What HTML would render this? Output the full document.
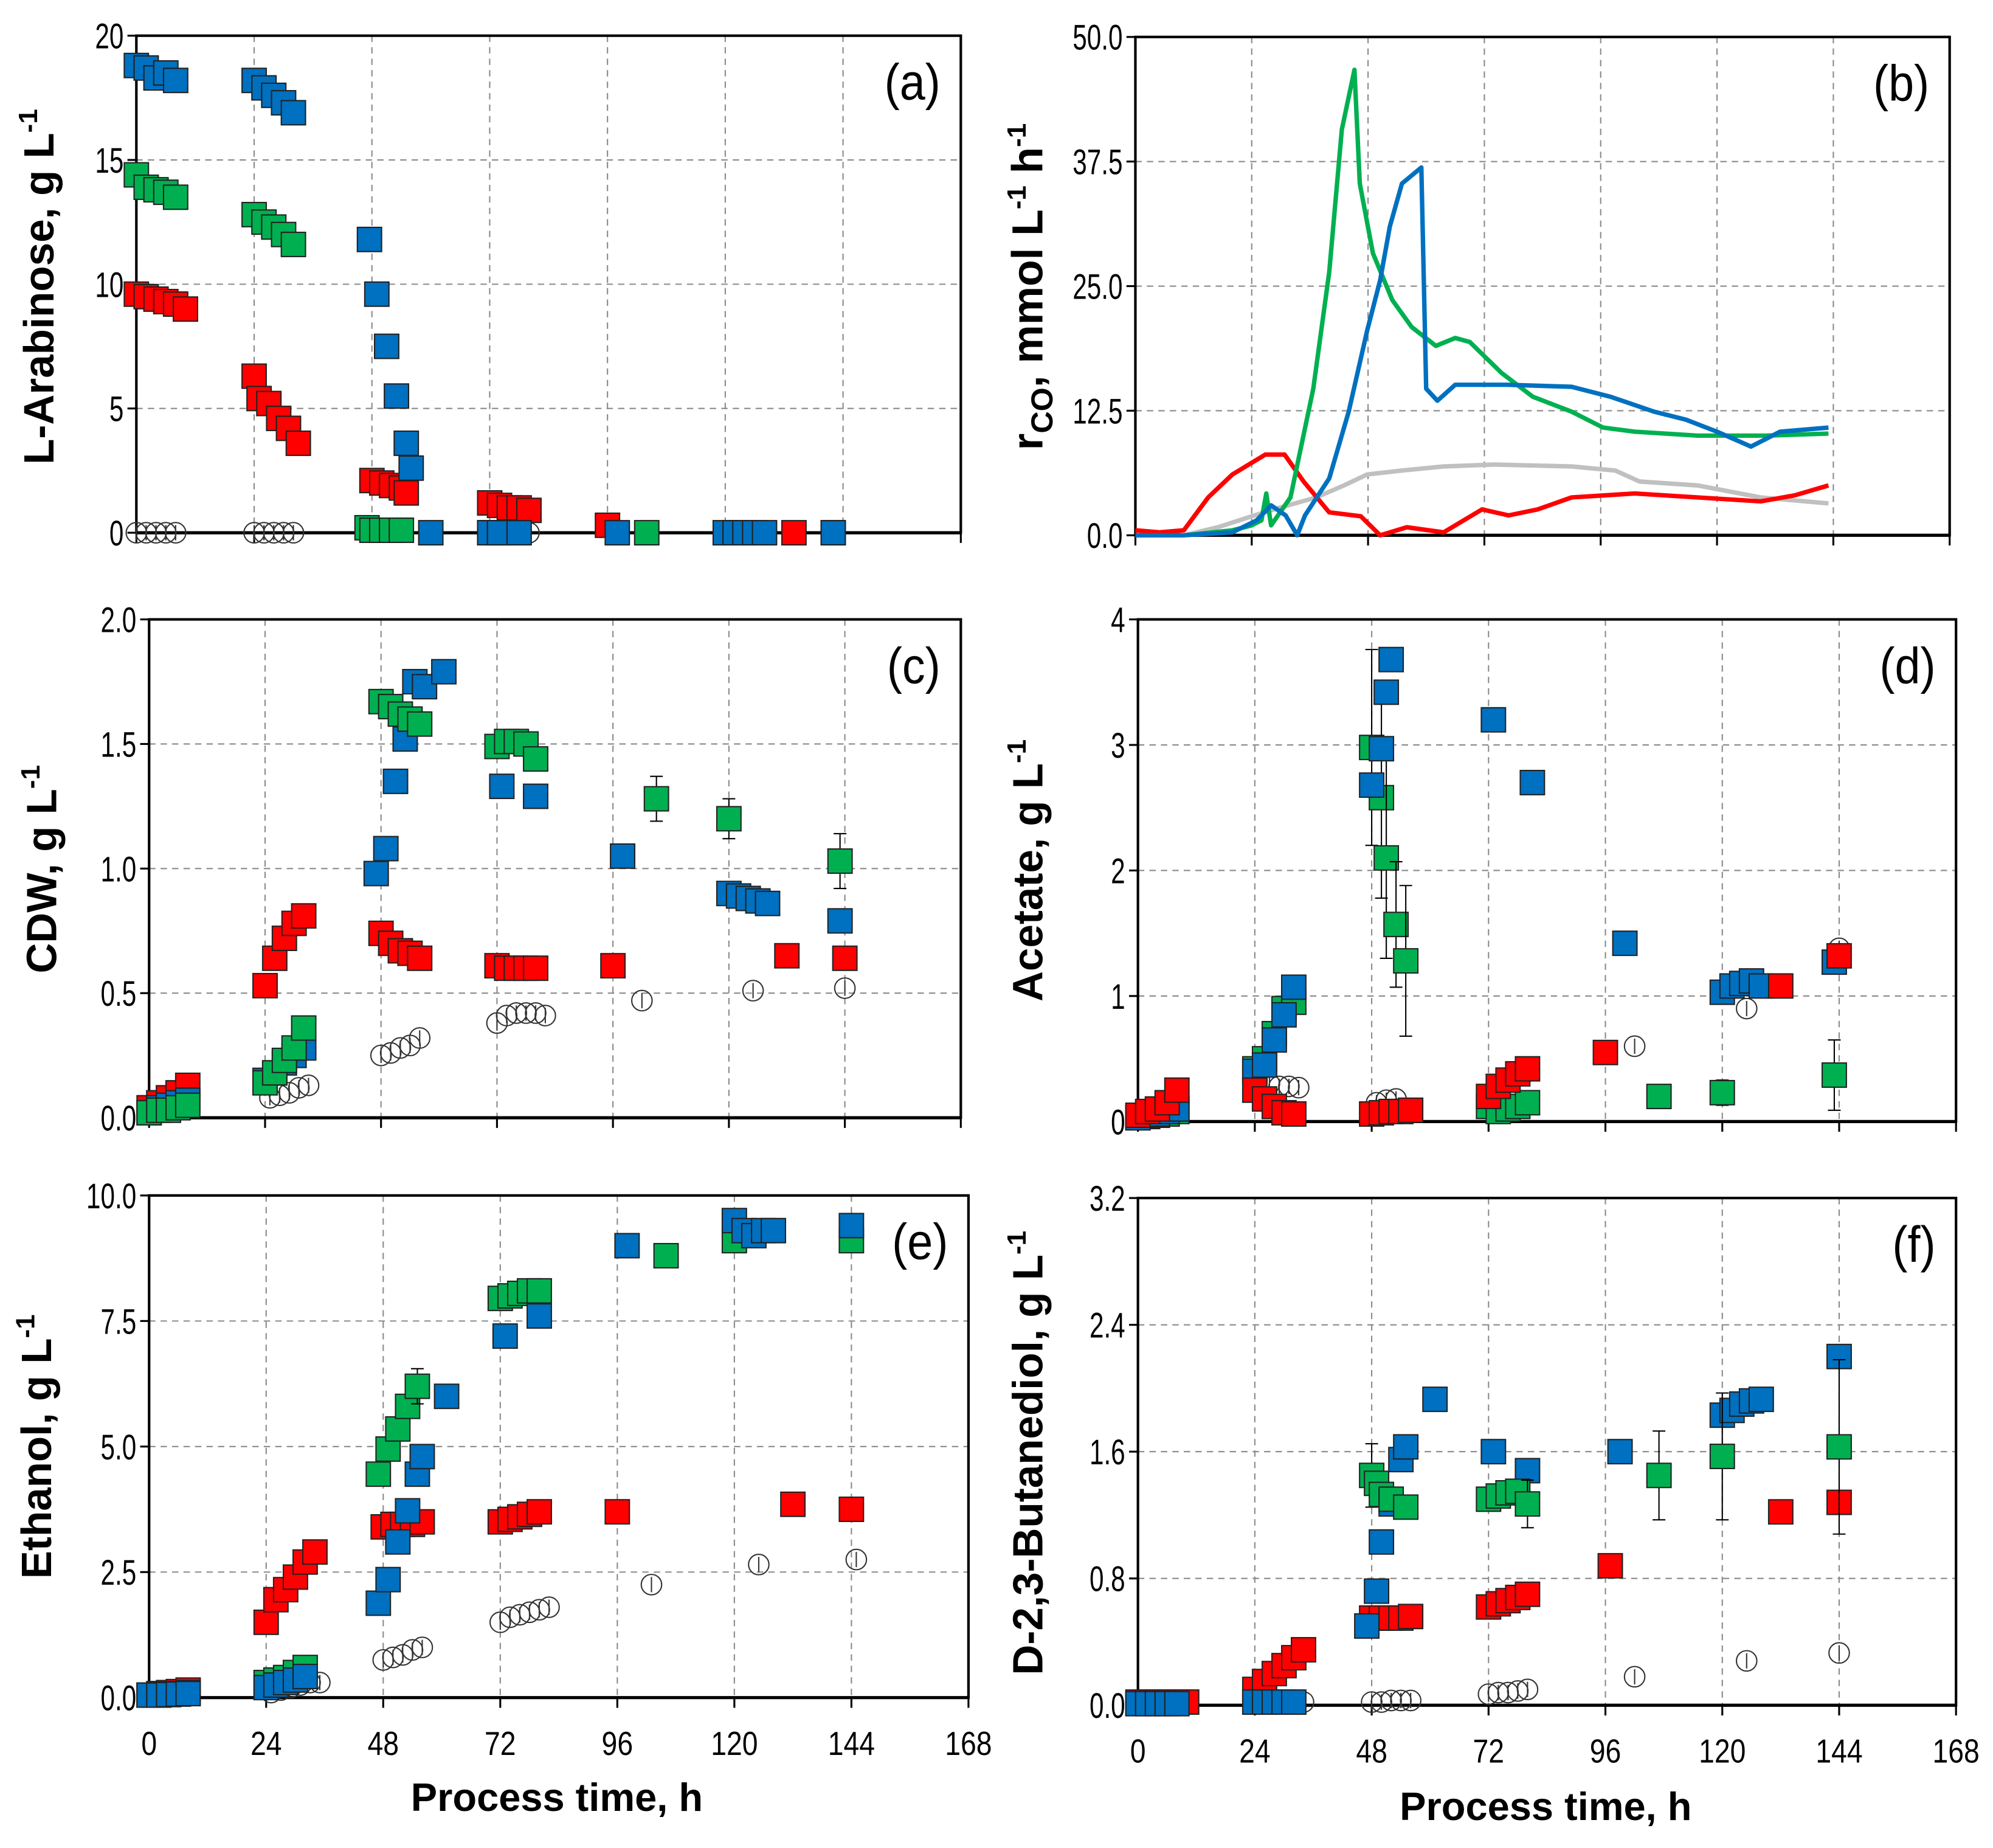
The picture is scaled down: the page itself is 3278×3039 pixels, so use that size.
<!DOCTYPE html>
<html><head><meta charset="utf-8"><style>
html,body{margin:0;padding:0;background:#fff}
svg{display:block}
text{font-family:"Liberation Sans",sans-serif}
</style></head>
<body>
<svg id="fig" xmlns="http://www.w3.org/2000/svg" width="3278" height="3039" viewBox="0 0 1564 1450"></svg>
<script>
// ---------- data ----------
const xTicks = [0,24,48,72,96,120,144,168];
// (a) L-Arabinose
const a_blue_t=[0,2,4,6,8,24,26,28,30,32,47.5,49,51,53,55,56,60,72,74,78,98,120,122,124,126,128,142];
const a_blue_v=[18.8,18.7,18.3,18.5,18.2,18.2,17.9,17.6,17.3,16.9,11.8,9.6,7.5,5.5,3.6,2.6,0,0,0,0,0,0,0,0,0,0,0];
const a_green_t=[0,2,4,6,8,24,26,28,30,32,47,48,50,52,54,72,74,76,104];
const a_green_v=[14.4,13.9,13.8,13.7,13.5,12.8,12.5,12.3,12.0,11.6,0.2,0.1,0.1,0.1,0.1,0,0,0,0];
const a_red_t=[0,2,4,6,8,10,24,25,27,29,31,33,48,50,52,54,55,72,74,76,78,80,96,134,142];
const a_red_v=[9.6,9.5,9.4,9.3,9.2,9.0,6.3,5.4,5.2,4.6,4.2,3.6,2.1,2.0,1.9,1.8,1.6,1.2,1.1,1.0,1.0,0.9,0.3,0,0];
const a_circ_t=[0,2,4,6,8,24,26,28,30,32,80];
const a_circ_v=[0,0,0,0,0,0,0,0,0,0,0];
// (b) rCO lines
const b_green_t=[0,10,20,24,26,27,28,32,36.7,40,42.6,45.2,46.3,49,53,57,62,66,69,75.5,82,90,96.5,103,116,130,143];
const b_green_v=[0,0,0.5,1,1.5,4.2,1,3.8,14.7,26.4,40.7,46.7,35.3,28.3,23.6,20.9,19,19.8,19.4,16.3,13.9,12.4,10.8,10.4,10,10,10.2];
const b_blue_t=[0,10,20,25,28,31,33.4,35,40,44,47.8,50.5,52.5,55,59,60,62.3,66,76.8,90,98,107,113.6,120,127,133,143];
const b_blue_v=[0,0,0.3,1.5,3,2,0,2,5.7,12.4,20.5,25.6,31,35.3,36.9,14.7,13.5,15.1,15.1,14.9,13.9,12.4,11.6,10.4,8.9,10.4,10.8];
const b_red_t=[0,5,10,15,20,26.8,30.8,34.7,40,46.5,50.5,56,63.6,71.5,77,83,90,103,116,129,136,143];
const b_red_v=[0.5,0.3,0.5,3.8,6.1,8.1,8.1,5.4,2.3,1.9,0,0.8,0.3,2.6,2.0,2.6,3.8,4.2,3.8,3.4,4.0,5.0];
const b_gray_t=[0,10,17,24,30,37.3,43,47.8,55,63.6,74,90,99,104,116,129,143];
const b_gray_v=[0,0,0.8,1.9,2.8,3.8,5,6.1,6.5,6.9,7.1,6.9,6.5,5.4,5.0,3.8,3.2];
// (c) CDW
const c_blue_t=[0,2,4,6,8,24,26,28,30,32,47,49,51,53,55,57,61,73,80,98,120,122,124,126,128,143];
const c_blue_v=[0.02,0.04,0.05,0.06,0.07,0.15,0.18,0.22,0.25,0.28,0.98,1.08,1.35,1.52,1.75,1.73,1.79,1.33,1.29,1.05,0.90,0.89,0.88,0.87,0.86,0.79];
const c_green_t=[0,2,4,6,8,24,26,28,30,32,48,50,52,54,56,72,74,76,78,80,105,120,143];
const c_green_v=[0.02,0.03,0.03,0.04,0.05,0.14,0.18,0.23,0.28,0.36,1.67,1.65,1.62,1.60,1.58,1.49,1.51,1.51,1.50,1.44,1.28,1.20,1.03];
const c_green_e=[0,0,0,0,0,0,0,0,0,0.04,0,0,0,0,0,0,0,0,0.02,0.03,0.09,0.08,0.11];
const c_red_t=[0,2,4,6,8,24,26,28,30,32,48,50,52,54,56,72,74,76,78,80,96,132,144];
const c_red_v=[0.04,0.06,0.08,0.10,0.13,0.53,0.64,0.72,0.78,0.81,0.74,0.70,0.67,0.66,0.64,0.61,0.60,0.60,0.60,0.60,0.61,0.65,0.64];
const c_circ_t=[25,27,29,31,33,48,50,52,54,56,72,74,76,78,80,82,102,125,144];
const c_circ_v=[0.08,0.09,0.10,0.12,0.13,0.25,0.26,0.28,0.29,0.32,0.38,0.41,0.42,0.42,0.42,0.41,0.47,0.51,0.52];
// (d) Acetate
const d_blue_t=[0,2,4,6,8,24,26,28,30,32,48,50,51,52,73,81,100,120,122,124,126,128,143];
const d_blue_v=[0.03,0.05,0.06,0.08,0.1,0.4,0.45,0.65,0.85,1.07,2.68,2.97,3.42,3.68,3.2,2.7,1.42,1.03,1.08,1.10,1.12,1.08,1.27];
const d_green_t=[0,2,4,6,8,24,26,28,30,32,48,50,51,53,55,72,74,76,78,80,107,120,143];
const d_green_v=[0.03,0.04,0.05,0.06,0.08,0.42,0.5,0.7,0.9,0.95,2.98,2.58,2.1,1.57,1.28,0.12,0.08,0.1,0.12,0.15,0.2,0.23,0.37];
const d_green_e=[0,0,0,0,0,0,0,0,0,0,0.78,0.8,0.8,0.5,0.6,0,0,0,0,0,0,0.1,0.28];
const d_red_t=[0,2,4,6,8,24,26,28,30,32,48,50,52,54,56,72,74,76,78,80,96,132,144];
const d_red_v=[0.05,0.08,0.1,0.15,0.25,0.25,0.18,0.12,0.07,0.06,0.06,0.07,0.08,0.08,0.09,0.2,0.28,0.33,0.38,0.42,0.55,1.08,1.32];
const d_circ_t=[27,29,31,33,49,51,53,80,102,125,144];
const d_circ_v=[0.3,0.28,0.28,0.27,0.15,0.17,0.18,0.4,0.6,0.9,1.38];
// (e) Ethanol
const e_blue_t=[0,2,4,6,8,24,26,28,30,32,47,49,51,53,55,56,61,73,80,98,120,122,124,126,128,144];
const e_blue_v=[0.05,0.05,0.06,0.07,0.08,0.2,0.25,0.3,0.35,0.42,1.88,2.35,3.1,3.72,4.45,4.8,6.0,7.2,7.6,9.0,9.5,9.3,9.2,9.3,9.3,9.4];
const e_green_t=[0,2,4,6,8,24,26,28,30,32,47,49,51,53,55,72,74,76,78,80,106,120,144];
const e_green_v=[0.05,0.06,0.07,0.08,0.1,0.3,0.35,0.4,0.5,0.6,4.45,4.95,5.35,5.8,6.2,7.95,8.0,8.05,8.1,8.1,8.8,9.1,9.1];
const e_green_e=[0,0,0,0,0,0,0,0,0,0,0.15,0,0,0,0.35,0,0,0,0,0,0,0,0];
const e_red_t=[0,2,4,6,8,24,26,28,30,32,34,48,50,52,54,56,72,74,76,78,80,96,132,144];
const e_red_v=[0.05,0.08,0.1,0.12,0.15,1.5,1.95,2.15,2.4,2.7,2.9,3.4,3.45,3.45,3.45,3.5,3.5,3.55,3.6,3.65,3.7,3.7,3.85,3.75];
const e_circ_t=[25,27,29,31,33,35,48,50,52,54,56,72,74,76,78,80,82,103,125,145];
const e_circ_v=[0.1,0.15,0.2,0.25,0.3,0.3,0.75,0.8,0.85,0.95,1.0,1.5,1.6,1.65,1.7,1.75,1.8,2.25,2.65,2.75];
// (f) D-2,3-Butanediol
const f_blue_t=[0,2,4,6,8,24,26,28,30,32,47,49,50,52,54,55,61,73,80,99,120,122,124,126,128,144];
const f_blue_v=[0.01,0.01,0.01,0.01,0.01,0.02,0.02,0.02,0.02,0.02,0.5,0.72,1.03,1.27,1.55,1.63,1.93,1.6,1.48,1.6,1.83,1.86,1.9,1.92,1.93,2.2];
const f_green_t=[48,49,50,52,55,72,74,76,78,80,107,120,144];
const f_green_v=[1.45,1.4,1.33,1.3,1.25,1.3,1.32,1.34,1.35,1.27,1.45,1.57,1.63];
const f_green_e=[0.2,0,0,0,0,0,0,0,0,0.15,0.28,0.4,0.55];
const f_red_t=[0,2,4,6,8,10,24,26,28,30,32,34,48,50,52,54,56,72,74,76,78,80,97,132,144];
const f_red_v=[0.02,0.02,0.02,0.02,0.02,0.02,0.1,0.15,0.2,0.25,0.3,0.35,0.55,0.55,0.55,0.55,0.56,0.62,0.64,0.66,0.68,0.7,0.88,1.22,1.28];
const f_circ_t=[26,28,30,32,34,48,50,52,54,56,72,74,76,78,80,102,125,144];
const f_circ_v=[0.02,0.02,0.02,0.02,0.02,0.02,0.02,0.03,0.03,0.03,0.07,0.08,0.08,0.09,0.1,0.18,0.28,0.33];

// ---------- drawing ----------
const NS="http://www.w3.org/2000/svg";
const svg=document.getElementById('fig');
function el(tag,attrs,parent,txt){const e=document.createElementNS(NS,tag);for(const k in attrs)e.setAttribute(k,attrs[k]);if(txt!==undefined)e.textContent=txt;(parent||svg).appendChild(e);return e;}
const COL={blue:'#0070c0',green:'#00b050',red:'#ff0000',gray:'#c0c0c0'};

function panel(p){
  const g=el('g',{},svg);
  
  
  const sx=t=>p.x0+(p.x1-p.x0)*t/168;
  const sy=v=>p.yb-(p.yb-p.yt)*v/p.ymax;
  p.sx=sx;p.sy=sy;
  for(const t of xTicks){ if(t===0||t===168)continue;
    const l=el('line',{x1:sx(t),x2:sx(t),y1:p.yt,y2:p.yb,stroke:'#8a8a8a','stroke-width':1,'stroke-dasharray':'5,4'},g);
    
    
  }
  p.yticks.forEach((v,i)=>{
    if(i>0&&i<p.yticks.length-1){
      const l=el('line',{x1:p.x0,x2:p.x1,y1:sy(v),y2:sy(v),stroke:'#8a8a8a','stroke-width':1,'stroke-dasharray':'5,4'},g);
      
      
    }
    el('line',{x1:p.x0-7,x2:p.x0,y1:sy(v),y2:sy(v),stroke:'#000','stroke-width':1.5},g);
    const tx=el('text',{x:p.x0-10,y:sy(v)+10,'text-anchor':'end','font-size':28,fill:'#000',transform:`translate(${p.x0-10},0) scale(0.72,1) translate(${-(p.x0-10)},0)`},g,p.ylabels[i]);
    
    
  });
  for(const t of xTicks){
    el('line',{x1:sx(t),x2:sx(t),y1:p.yb,y2:p.yb+8,stroke:'#000','stroke-width':1.5},g);
    if(p.xlab){
      const tx=el('text',{x:sx(t),y:p.yb+45,'text-anchor':'middle','font-size':26,fill:'#000',transform:`translate(${sx(t)},0) scale(0.85,1) translate(${-sx(t)},0)`},g,String(t));
      
      
    }
  }
  const fr=el('rect',{x:p.x0,y:p.yt,width:p.x1-p.x0,height:p.yb-p.yt,fill:'none',stroke:'#000','stroke-width':2},g);
  
  
  el('line',{x1:p.x0,x2:p.x1,y1:p.yb,y2:p.yb,stroke:'#000','stroke-width':2.5},g);
  const yt=el('text',{x:0,y:0,'text-anchor':'middle','font-size':p.yfs||33,'font-weight':'bold',fill:'#000',transform:`translate(${p.ytx},${p.yty}) rotate(-90)`},g);
  
  
  yt.innerHTML=p.ytitle;
  const lt=el('text',{x:p.x1-16,y:p.yt+50,'text-anchor':'end','font-size':40,fill:'#000',transform:`translate(${p.x1-16},0) scale(0.9,1) translate(${-(p.x1-16)},0)`},g,'('+p.id+')');
  
  
  return g;
}
function squares(p,g,ts,vs,color,name,errs){
  const s=19;
  ts.forEach((t,i)=>{
    const x=p.sx(t),y=p.sy(vs[i]);
    if(errs&&errs[i]>0){
      const e1=p.sy(vs[i]+errs[i]),e2=p.sy(Math.max(0,vs[i]-errs[i]));
      el('line',{x1:x,x2:x,y1:e1,y2:e2,stroke:'#000','stroke-width':1},g);
      el('line',{x1:x-5,x2:x+5,y1:e1,y2:e1,stroke:'#000','stroke-width':1},g);
      el('line',{x1:x-5,x2:x+5,y1:e2,y2:e2,stroke:'#000','stroke-width':1},g);
    }
    const r=el('rect',{x:x-s/2,y:y-s/2,width:s,height:s,fill:color,stroke:'#222','stroke-width':1},g);
    
    
  });
}
function circles(p,g,ts,vs){
  ts.forEach((t,i)=>{
    const x=p.sx(t),y=p.sy(vs[i]);
    const c=el('circle',{cx:x,cy:y,r:8,fill:'none',stroke:'#333','stroke-width':1},g);
    
    
    el('line',{x1:x,x2:x,y1:y-6,y2:y+6,stroke:'#333','stroke-width':1},g);
  });
}
function line(p,g,ts,vs,color,name){
  const d=ts.map((t,i)=>(i?'L':'M')+p.sx(t).toFixed(1)+','+p.sy(vs[i]).toFixed(1)).join(' ');
  const pa=el('path',{d:d,fill:'none',stroke:color,'stroke-width':3.5,'stroke-linejoin':'round'},g);
  
  
}
const sup='<tspan font-size="21" dy="-13">-1</tspan>';
const A={id:'a',x0:107,x1:754,yt:28,yb:418,ymax:20,yticks:[0,5,10,15,20],ylabels:['0','5','10','15','20'],ytx:42,yty:225,ytitle:'L-Arabinose, g L'+sup};
const B={id:'b',x0:891,x1:1530,yt:29,yb:420,ymax:50,yticks:[0,12.5,25,37.5,50],ylabels:['0.0','12.5','25.0','37.5','50.0'],ytx:818,yty:225,yfs:34,ytitle:'r<tspan font-size="24" dy="8">CO</tspan><tspan dy="-8">, mmol L</tspan><tspan font-size="21" dy="-13">-1</tspan><tspan dy="13"> h</tspan><tspan font-size="21" dy="-13">-1</tspan>'};
const C={id:'c',x0:117,x1:754,yt:486,yb:877,ymax:2,yticks:[0,0.5,1,1.5,2],ylabels:['0.0','0.5','1.0','1.5','2.0'],ytx:44,yty:682,ytitle:'CDW, g L'+sup};
const D={id:'d',x0:893,x1:1535,yt:486,yb:880,ymax:4,yticks:[0,1,2,3,4],ylabels:['0','1','2','3','4'],ytx:818,yty:683,ytitle:'Acetate, g L'+sup};
const E={id:'e',x0:117,x1:760,yt:938,yb:1332,ymax:10,yticks:[0,2.5,5,7.5,10],ylabels:['0.0','2.5','5.0','7.5','10.0'],ytx:40,yty:1135,ytitle:'Ethanol, g L'+sup,xlab:true};
const F={id:'f',x0:893,x1:1535,yt:940,yb:1338,ymax:3.2,yticks:[0,0.8,1.6,2.4,3.2],ylabels:['0.0','0.8','1.6','2.4','3.2'],ytx:818,yty:1140,ytitle:'D-2,3-Butanediol, g L'+sup,xlab:true};

let g=panel(A); circles(A,g,a_circ_t,a_circ_v); squares(A,g,a_red_t,a_red_v,COL.red,'red'); squares(A,g,a_green_t,a_green_v,COL.green,'green'); squares(A,g,a_blue_t,a_blue_v,COL.blue,'blue');
g=panel(B); line(B,g,b_gray_t,b_gray_v,COL.gray,'gray'); line(B,g,b_red_t,b_red_v,COL.red,'red'); line(B,g,b_green_t,b_green_v,COL.green,'green'); line(B,g,b_blue_t,b_blue_v,COL.blue,'blue');
g=panel(C); circles(C,g,c_circ_t,c_circ_v); squares(C,g,c_red_t,c_red_v,COL.red,'red'); squares(C,g,c_blue_t,c_blue_v,COL.blue,'blue'); squares(C,g,c_green_t,c_green_v,COL.green,'green',c_green_e);
g=panel(D); circles(D,g,d_circ_t,d_circ_v); squares(D,g,d_green_t,d_green_v,COL.green,'green',d_green_e); squares(D,g,d_blue_t,d_blue_v,COL.blue,'blue'); squares(D,g,d_red_t,d_red_v,COL.red,'red');
g=panel(E); circles(E,g,e_circ_t,e_circ_v); squares(E,g,e_red_t,e_red_v,COL.red,'red'); squares(E,g,e_green_t,e_green_v,COL.green,'green',e_green_e); squares(E,g,e_blue_t,e_blue_v,COL.blue,'blue');
g=panel(F); circles(F,g,f_circ_t,f_circ_v); squares(F,g,f_red_t,f_red_v,COL.red,'red'); squares(F,g,f_blue_t,f_blue_v,COL.blue,'blue'); squares(F,g,f_green_t,f_green_v,COL.green,'green',f_green_e);

const x1=el('text',{x:437,y:1421,'text-anchor':'middle','font-size':31,'font-weight':'bold',fill:'#000'},svg,'Process time, h');


const x2=el('text',{x:1213,y:1428,'text-anchor':'middle','font-size':31,'font-weight':'bold',fill:'#000'},svg,'Process time, h');


</script>
</body></html>
